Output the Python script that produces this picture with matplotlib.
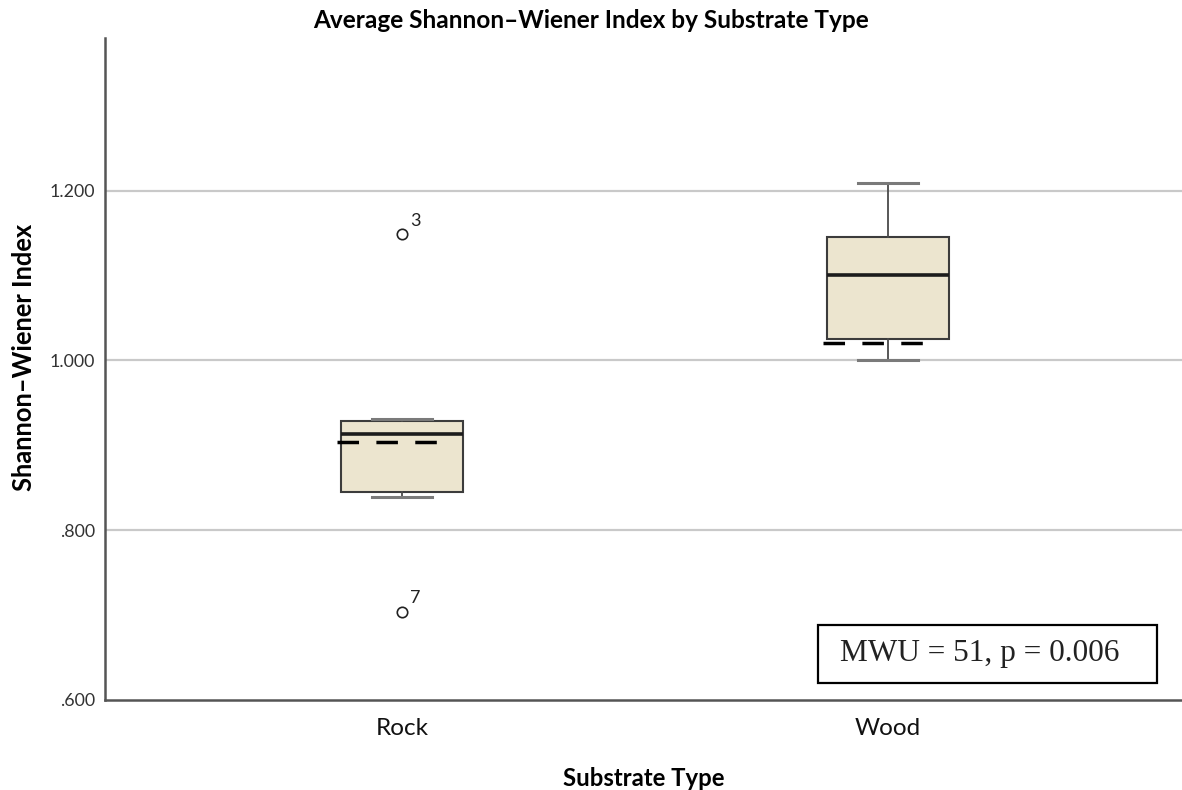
import matplotlib
matplotlib.use("Agg")
import matplotlib.pyplot as plt
from matplotlib.patches import Rectangle

# Shannon-Wiener index summary per substrate (SPSS style boxplot)
substrates = ["Rock", "Wood"]
q1 = [0.845, 1.025]
medians = [0.913, 1.101]
q3 = [0.929, 1.145]
whisker_low = [0.839, 1.000]
whisker_high = [0.931, 1.209]
outliers = [[1.149, 0.704], []]
outlier_ids = [["3", "7"], []]
reference_values = [0.904, 1.021]

y_ticks = [0.6, 0.8, 1.0, 1.2]
y_tick_labels = [".600", ".800", "1.000", "1.200"]

stat_text = "MWU = 51, p = 0.006"

SANS = ["Lato", "DejaVu Sans"]
SERIF = ["Liberation Serif", "DejaVu Serif"]


def build_stats():
    stats = []
    for i, name in enumerate(substrates):
        stats.append({
            "label": name,
            "q1": q1[i],
            "med": medians[i],
            "q3": q3[i],
            "whislo": whisker_low[i],
            "whishi": whisker_high[i],
            "fliers": outliers[i],
        })
    return stats


def main():
    fig = plt.figure(figsize=(11.82, 7.90), dpi=100)
    ax = fig.add_axes([0.0888, 0.114, 0.9112, 0.838])

    positions = [1, 2]
    ax.set_xlim(0.389, 2.605)
    ax.set_ylim(0.6, 1.38)

    # gridlines first so the boxes sit on top
    for y in y_ticks[1:]:
        ax.axhline(y, color="#c9c9c9", lw=1.6, zorder=0)

    ax.bxp(build_stats(), positions=positions, widths=0.25, patch_artist=True,
           capwidths=0.125,
           boxprops=dict(facecolor="#ece5cf", edgecolor="#3c3c3c", linewidth=1.5),
           medianprops=dict(color="#1c1c1c", linewidth=2.6),
           whiskerprops=dict(color="#4a4a4a", linewidth=1.3),
           capprops=dict(color="#7a7a7a", linewidth=2.2),
           flierprops=dict(marker="o", markerfacecolor="none", markeredgecolor="#222222",
                           markersize=7.5, markeredgewidth=1.2),
           zorder=2)

    # dashed reference line across each box
    for pos, val in zip(positions, reference_values):
        ax.hlines(val, pos - 0.134, pos + 0.105, colors="#000000", linewidth=2.5,
                  linestyles=(0, (6.2, 5.0)), zorder=3)

    # outlier case numbers
    for pos, vals, ids in zip(positions, outliers, outlier_ids):
        for v, case in zip(vals, ids):
            ax.annotate(case, (pos, v), xytext=(6, 6), textcoords="offset points",
                        fontsize=13, family=SANS, color="#222222")

    ax.set_yticks(y_ticks)
    ax.set_yticklabels(y_tick_labels, family=SANS, fontsize=12.8, color="#333333")
    ax.set_xticks(positions)
    ax.set_xticklabels(substrates, family=SANS, fontsize=17.5, color="#111111")
    ax.tick_params(axis="y", length=0, pad=7)
    ax.tick_params(axis="x", length=0, pad=13)

    for side in ["top", "right"]:
        ax.spines[side].set_visible(False)
    for side in ["left", "bottom"]:
        ax.spines[side].set_color("#555555")
        ax.spines[side].set_linewidth(1.8)

    fig.text(0.5, 1 - 21 / 790, "Average Shannon\u2013Wiener Index by Substrate Type",
             family=SANS, fontweight="bold", fontsize=17.6, ha="center", va="center")

    ylab = ax.set_ylabel("Shannon\u2013Wiener Index", family=SANS, fontweight="bold",
                         fontsize=18.4)
    ylab.set_va("center")
    ax.yaxis.set_label_coords(-0.075, 0.518)

    xlab = ax.set_xlabel("Substrate Type", family=SANS, fontweight="bold", fontsize=17.2)
    xlab.set_va("center")
    ax.xaxis.set_label_coords(0.5, -0.118)

    # test statistic box
    ax.add_patch(Rectangle((0.662, 0.026), 0.315, 0.087, transform=ax.transAxes,
                           facecolor="white", edgecolor="black", linewidth=1.6, zorder=4))
    ax.text(0.8125, 0.0695, stat_text, transform=ax.transAxes, ha="center", va="center",
            family=SERIF, fontsize=22.5, color="#222222", zorder=5)

    fig.savefig("out.png", dpi=100)


if __name__ == "__main__":
    main()
